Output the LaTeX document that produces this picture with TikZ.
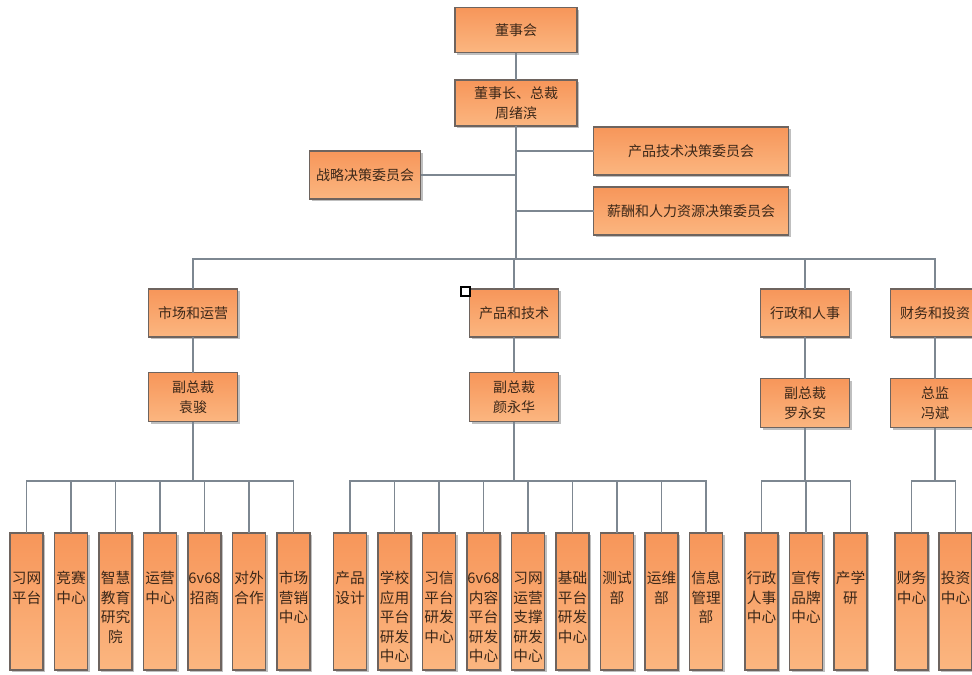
\documentclass[tikz,border=0pt]{standalone}
\usepackage{fontspec}
\newfontfamily\cjk{Noto Sans CJK SC}
\usetikzlibrary{shadows}
\definecolor{boxtop}{RGB}{247,150,90}
\definecolor{boxbot}{RGB}{251,182,128}
\definecolor{boxline}{RGB}{110,100,95}
\definecolor{wirecol}{RGB}{125,135,145}
\definecolor{ink}{RGB}{60,40,25}
\begin{document}
\begin{tikzpicture}[x=0.75pt, y=-0.75pt, inner sep=0pt, outer sep=0pt,
  box/.style={draw=boxline, line width=1pt, top color=boxtop, bottom color=boxbot,
    drop shadow={shadow xshift=1.5pt, shadow yshift=-1.5pt, fill=black, opacity=0.25},
    text=ink, font=\cjk\fontsize{10.5}{15}\selectfont, align=center,
    minimum width=66.75pt, minimum height=36pt},
  wide/.style={box, minimum width=146.25pt},
  leaf/.style={box, anchor=north, font=\cjk\fontsize{11}{14.6}\selectfont,
    text width=24.75pt, minimum width=24.75pt, minimum height=102.75pt,
    text height=38pt, text depth=64.75pt},
  wire/.style={draw=wirecol, line width=0.9pt}]
\useasboundingbox (0,0) rectangle (972,675);

\coordinate (bus) at (516,259);
\coordinate (bm) at (193,481);
\coordinate (bp) at (514,481);
\coordinate (ba) at (805,481);
\coordinate (bf) at (935,481);

\node[box, minimum width=91.5pt, minimum height=33.75pt] (board) at (516,30) {董事会};
\node[box, minimum width=91.5pt, minimum height=34.5pt] (ceo) at (516,103) {董事长、总裁\\周绪滨};
\node[wide] (ctech) at (691,151) {产品技术决策委员会};
\node[box, minimum width=83.25pt] (cstrat) at (365,175) {战略决策委员会};
\node[wide] (chr) at (691,211) {薪酬和人力资源决策委员会};

\draw[wire] (board) -- (ceo);
\draw[wire] (ceo) -- (bus);
\draw[wire] (ctech.west) -- (ceo.south |- ctech.west);
\draw[wire] (cstrat.east) -- (ceo.south |- cstrat.east);
\draw[wire] (chr.west) -- (ceo.south |- chr.west);

\node[box] (mkt) at (193,313) {市场和运营};
\node[box] (prod) at (514,313) {产品和技术};
\node[box] (adm) at (805,313) {行政和人事};
\node[box] (fin) at (935,313) {财务和投资};
\node[box, minimum height=36.75pt] (vpm) at (193,397) {副总裁\\袁骏};
\node[box, minimum height=36.75pt] (vpp) at (514,397) {副总裁\\颜永华};
\node[box, minimum height=36.75pt] (vpa) at (805,403) {副总裁\\罗永安};
\node[box, minimum height=36.75pt] (cfo) at (935,403) {总监\\冯斌};

\draw[wire] (mkt.north) |- (bus) -| (fin.north);
\draw[wire] (prod.north) -- (prod.north |- bus);
\draw[wire] (adm.north) -- (adm.north |- bus);
\draw[wire] (mkt) -- (vpm);
\draw[wire] (prod) -- (vpp);
\draw[wire] (adm) -- (vpa);
\draw[wire] (fin) -- (cfo);
\draw[wire] (vpm.south) -- (bm);
\draw[wire] (vpp.south) -- (bp);
\draw[wire] (vpa.south) -- (ba);
\draw[wire] (cfo.south) -- (bf);

\draw[black, fill=white, line width=0.8pt] (461,287) rectangle (470,296);

\foreach \t [count=\i] in {习网\\平台, 竞赛\\中心, 智慧\\教育\\研究\\院, 运营\\中心, 6v68\\招商, 对外\\合作, 市场\\营销\\中心}
  \node[leaf] (m\i) at ({26.5+44.5*(\i-1)},533) {\t};
\foreach \t [count=\i] in {产品\\设计, 学校\\应用\\平台\\研发\\中心, 习信\\平台\\研发\\中心, 6v68\\内容\\平台\\研发\\中心, 习网\\运营\\支撑\\研发\\中心, 基础\\平台\\研发\\中心, 测试\\部, 运维\\部, 信息\\管理\\部}
  \node[leaf] (p\i) at ({350+44.5*(\i-1)},533) {\t};
\foreach \t [count=\i] in {行政\\人事\\中心, 宣传\\品牌\\中心, 产学\\研}
  \node[leaf] (a\i) at ({761.5+44.5*(\i-1)},533) {\t};
\foreach \t [count=\i] in {财务\\中心, 投资\\中心}
  \node[leaf] (f\i) at ({911.5+44*(\i-1)},533) {\t};

\foreach \i in {1,...,7} \draw[wire] (bm) -| (m\i.north);
\foreach \i in {1,...,9} \draw[wire] (bp) -| (p\i.north);
\foreach \i in {1,...,3} \draw[wire] (ba) -| (a\i.north);
\foreach \i in {1,2} \draw[wire] (bf) -| (f\i.north);
\end{tikzpicture}
\end{document}
